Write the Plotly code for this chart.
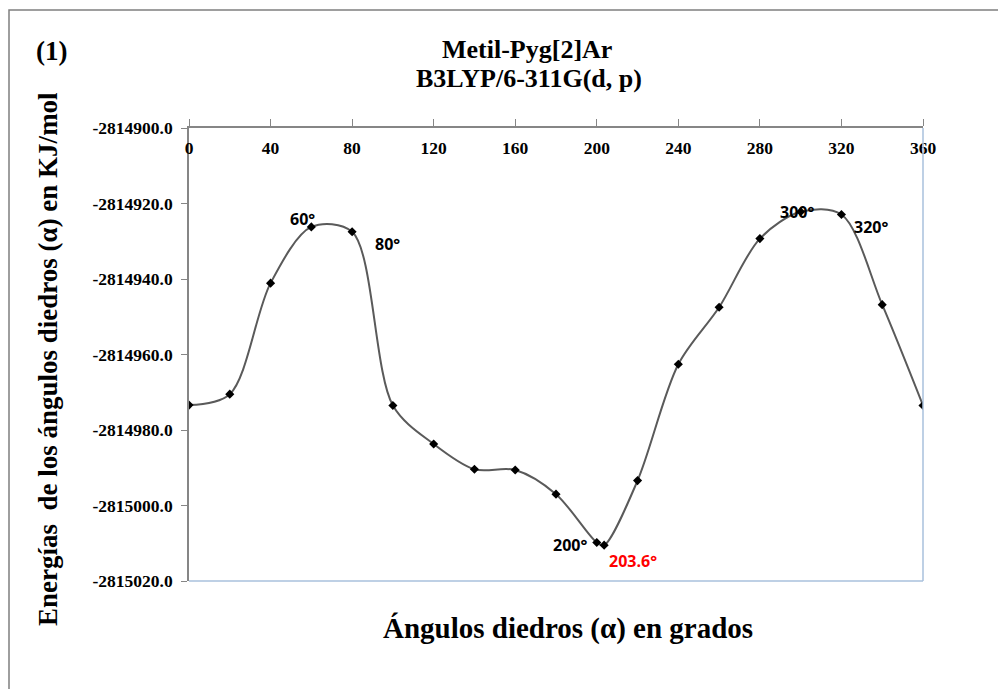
import plotly.graph_objects as go

# ---- data ----
angles = [0, 20, 40, 60, 80, 100, 120, 140, 160, 180, 200, 203.6, 220, 240, 260, 280, 300, 320, 340, 360]
energies = [-2814973.4, -2814970.5, -2814941.1, -2814926.2, -2814927.5, -2814973.5, -2814983.7,
            -2814990.4, -2814990.6, -2814997.0, -2815009.8, -2815010.5, -2814993.4, -2814962.6,
            -2814947.5, -2814929.3, -2814922.2, -2814922.9, -2814946.8, -2814973.5]
x_ticks = [0, 40, 80, 120, 160, 200, 240, 280, 320, 360]
y_ticks = [-2815020, -2815000, -2814980, -2814960, -2814940, -2814920, -2814900]
y_ticktext = [f"{v:.1f}" for v in y_ticks]

# labelled points: (index into angles, text, colour, xshift, yshift)
point_labels = [
    (3, "60°", "black", -9, 8),
    (4, "80°", "black", 35, -12),
    (10, "200°", "black", -27, -3),
    (11, "203.6°", "red", 29, -16),
    (16, "300°", "black", -4, 0),
    (17, "320°", "black", 30, -13),
]

serif = "Liberation Serif"
axis_gray = "#868686"
edge_blue = "#a9c0dc"

# plot area in page pixels (browser body has an 8px margin)
PL, PR, PT, PB = 189, 923, 128, 581
PW, PH = PR - PL, PB - PT


def px(xp):
    return (xp - PL) / PW


def py(yp):
    return (PB - yp) / PH


fig = go.Figure()
fig.add_trace(go.Scatter(
    x=angles, y=energies, mode="lines+markers",
    line=dict(color="#5a5a5a", width=2, shape="spline", smoothing=0.9),
    marker=dict(symbol="diamond", size=7, color="black"),
    showlegend=False, hoverinfo="x+y",
))

for idx, txt, col, dx, dy in point_labels:
    fig.add_annotation(x=angles[idx], y=energies[idx], text=f"<b>{txt}</b>",
                       showarrow=False, xshift=dx, yshift=dy,
                       font=dict(family="Open Sans", size=16, color=col))


def paper_text(xp, yp, text, size, angle=0):
    fig.add_annotation(xref="paper", yref="paper", x=px(xp), y=py(yp),
                       xanchor="center", yanchor="middle", text=text, showarrow=False,
                       textangle=angle, font=dict(family=serif, size=size, color="black"))


# titles
paper_text(527, 49, "<b>Metil-Pyg[2]Ar</b>", 26)
paper_text(529, 79, "<b>B3LYP/6-311G(d, p)</b>", 26)
paper_text(51, 51, "<b>(1)</b>", 27)
paper_text(568, 628, "<b>Ángulos diedros (α) en grados</b>", 29)
paper_text(48, 359, "<b>Energías  de los ángulos diedros (α) en KJ/mol</b>", 27, angle=-90)

# border lines of plot area (right & bottom light blue)
fig.add_shape(type="line", xref="paper", yref="paper", x0=1, x1=1, y0=0, y1=1,
              line=dict(color=edge_blue, width=1.5))
fig.add_shape(type="line", xref="paper", yref="paper", x0=0, x1=1, y0=0, y1=0,
              line=dict(color=edge_blue, width=1.5))
# outer chart frame
fig.add_shape(type="rect", xref="paper", yref="paper",
              x0=px(9), x1=px(1015), y0=py(700), y1=py(10),
              line=dict(color="#7f7f7f", width=1.5), layer="below")

tickfont = dict(family=serif, size=17.5, color="black", weight="bold")

fig.update_layout(
    width=998, height=681,
    margin=dict(l=PL - 8, r=83, t=PT - 8, b=108),
    paper_bgcolor="white", plot_bgcolor="white",
    xaxis=dict(
        range=[0, 360], side="top", tickvals=x_ticks, ticks="outside", ticklen=7,
        tickcolor=axis_gray, showline=True, linecolor=axis_gray, linewidth=1.5,
        showgrid=False, zeroline=False, ticklabelstandoff=-42,
        tickfont=tickfont,
    ),
    yaxis=dict(
        range=[-2815020, -2814900], tickvals=y_ticks, ticktext=y_ticktext, ticks="outside", ticklen=6,
        tickcolor=axis_gray, showline=True, linecolor=axis_gray, linewidth=1.5,
        showgrid=False, zeroline=False, ticklabelstandoff=5,
        tickfont=tickfont,
    ),
)

fig.write_html("out.html")
